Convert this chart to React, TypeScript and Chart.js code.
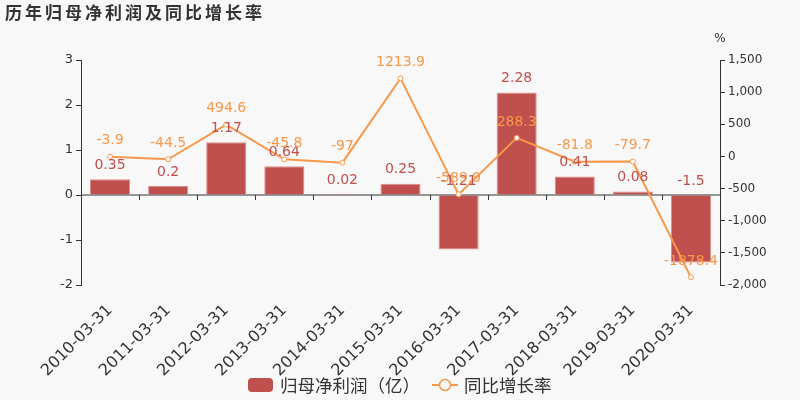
import { useEffect, useRef } from 'react';
import { Chart, registerables } from 'chart.js';

Chart.register(...registerables);

const categories = [
  '2010-03-31', '2011-03-31', '2012-03-31', '2013-03-31', '2014-03-31', '2015-03-31',
  '2016-03-31', '2017-03-31', '2018-03-31', '2019-03-31', '2020-03-31',
];
// 归母净利润（亿）
const profitValues = [0.35, 0.2, 1.17, 0.64, 0.02, 0.25, -1.21, 2.28, 0.41, 0.08, -1.5];
// 同比增长率 (%)
const growthValues = [-3.9, -44.5, 494.6, -45.8, -97, 1213.9, -589.9, 288.3, -81.8, -79.7, -1878.4];

const TITLE = '历年归母净利润及同比增长率';
const BAR_LABEL = '归母净利润（亿）';
const LINE_LABEL = '同比增长率';

const BG = '#f8f8f8';
const BAR_COLOR = '#c0504d';
const LINE_COLOR = '#f7984a';
const TEXT = '#333';
const FONT = '"DejaVu Sans", sans-serif';
const CJK = '"Noto Sans CJK SC", sans-serif';

const decorPlugin = {
  id: 'decor',
  beforeDatasetsDraw(chart) {
    const { ctx, chartArea } = chart;
    const y = chart.scales.y.getPixelForValue(0);
    const w = (chartArea.right - chartArea.left) / categories.length;
    ctx.save();
    ctx.strokeStyle = TEXT;
    ctx.lineWidth = 1;
    ctx.beginPath();
    ctx.moveTo(chartArea.left, y);
    ctx.lineTo(chartArea.right, y);
    for (let i = 0; i <= categories.length; i++) {
      const x = Math.round(chartArea.left + i * w) + 0.5;
      ctx.moveTo(x, y);
      ctx.lineTo(x, y + 5);
    }
    ctx.stroke();
    ctx.restore();
  },
  afterDraw(chart) {
    const { ctx } = chart;
    ctx.save();

    // title
    ctx.fillStyle = TEXT;
    ctx.font = 'bold 17px ' + CJK;
    ctx.textBaseline = 'middle';
    ctx.textAlign = 'left';
    (ctx as any).letterSpacing = '3px';
    ctx.fillText(TITLE, 5, 13);
    (ctx as any).letterSpacing = '0px';

    // unit of right axis
    ctx.font = '12px ' + FONT;
    ctx.textAlign = 'center';
    ctx.fillText('%', 720, 39);

    // data labels
    ctx.font = '14px ' + FONT;
    const barMeta = chart.getDatasetMeta(0);
    ctx.fillStyle = BAR_COLOR;
    barMeta.data.forEach((el: any, i) => {
      const top = Math.min(el.y, el.base);
      ctx.fillText(String(profitValues[i]), el.x, top - 14);
    });
    const lineMeta = chart.getDatasetMeta(1);
    ctx.fillStyle = LINE_COLOR;
    lineMeta.data.forEach((el: any, i) => {
      ctx.fillText(String(growthValues[i]), el.x, el.y - 16);
    });

    // legend
    const ly = 385;
    ctx.fillStyle = BAR_COLOR;
    ctx.beginPath();
    ctx.roundRect(248, 378, 25, 14, 4);
    ctx.fill();
    ctx.fillStyle = TEXT;
    ctx.font = '17.5px ' + CJK;
    ctx.textAlign = 'left';
    ctx.fillText(BAR_LABEL, 280, ly);

    ctx.strokeStyle = LINE_COLOR;
    ctx.lineWidth = 2;
    ctx.beginPath();
    ctx.moveTo(432, ly);
    ctx.lineTo(458, ly);
    ctx.stroke();
    ctx.beginPath();
    ctx.arc(445, ly, 5.5, 0, Math.PI * 2);
    ctx.fillStyle = BG;
    ctx.fill();
    ctx.lineWidth = 1.5;
    ctx.stroke();
    ctx.fillStyle = TEXT;
    ctx.fillText(LINE_LABEL, 464, ly);

    ctx.restore();
  },
};

export default function App() {
  const canvasRef = useRef(null);

  useEffect(() => {
    if (!canvasRef.current) return;
    const ctx = canvasRef.current.getContext('2d');
    if (!ctx) return;

    const chart = new Chart(ctx, {
      type: 'bar',
      data: {
        labels: categories,
        datasets: [
          {
            type: 'bar',
            label: BAR_LABEL,
            data: profitValues,
            yAxisID: 'y',
            backgroundColor: BAR_COLOR,
            borderColor: '#dc8e8c',
            borderWidth: 1,
            barPercentage: 0.69,
            categoryPercentage: 1,
            order: 2,
          },
          {
            type: 'line',
            label: LINE_LABEL,
            data: growthValues,
            yAxisID: 'y1',
            borderColor: LINE_COLOR,
            borderWidth: 2,
            pointRadius: 2.5,
            pointBackgroundColor: '#fff',
            pointBorderColor: LINE_COLOR,
            pointBorderWidth: 1,
            tension: 0,
            order: 1,
          },
        ],
      },
      options: {
        responsive: true,
        maintainAspectRatio: false,
        animation: false,
        layout: { padding: { top: 60, left: 0, right: 0, bottom: 0 } },
        plugins: {
          legend: { display: false },
          title: { display: false },
          tooltip: { enabled: false },
        },
        scales: {
          x: {
            grid: { display: false },
            border: { display: false },
            ticks: {
              color: TEXT,
              font: { family: FONT, size: 16 },
              maxRotation: 45,
              minRotation: 45,
              autoSkip: false,
              padding: 8,
            },
            afterFit: (s) => {
              s.height = 115;
            },
          },
          y: {
            position: 'left',
            min: -2,
            max: 3,
            ticks: { stepSize: 1, color: TEXT, font: { family: FONT, size: 13 }, padding: 3 },
            grid: { drawOnChartArea: false, tickLength: 5, color: TEXT },
            border: { color: TEXT },
            afterFit: (s) => {
              s.width = 81;
            },
          },
          y1: {
            position: 'right',
            min: -2000,
            max: 1500,
            ticks: { stepSize: 500, color: TEXT, font: { family: FONT, size: 12 }, padding: 3 },
            grid: { drawOnChartArea: false, tickLength: 5, color: TEXT },
            border: { color: TEXT },
            afterFit: (s) => {
              s.width = 80;
            },
          },
        },
      },
      plugins: [decorPlugin],
    });

    return () => {
      chart.destroy();
    };
  }, []);

  return (
    <div style={{ position: 'fixed', left: 0, top: 0, width: 800, height: 400, background: BG }}>
      <canvas ref={canvasRef} />
    </div>
  );
}
